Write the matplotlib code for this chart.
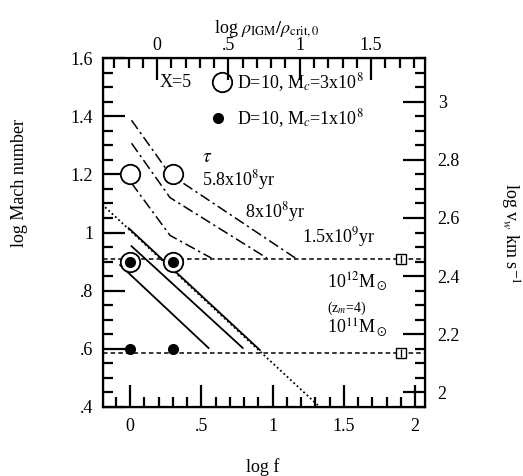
import matplotlib
matplotlib.use("Agg")
import matplotlib.pyplot as plt
from matplotlib.ticker import MultipleLocator, FuncFormatter

plt.rcParams['font.family'] = ['Liberation Serif', 'DejaVu Serif']
plt.rcParams['mathtext.fontset'] = 'stix'

# model points (log f = 0 and log 2)
mark_f = [0.0, 0.301]
open_M = [1.2, 1.2]
circdot_M = [0.9, 0.9]
dot_M = [0.6, 0.6]

# horizontal halo levels (dashed) and square marker position
halo_M = [0.91, 0.585]
square_f = 1.9

# solid lines
line_a_f = [-0.07, 0.55]
line_a_M = [0.888, 0.603]
line_b_f = [0.01, 0.79]
line_b_M = [0.953, 0.603]
line_c_f = [-0.01, 0.91]
line_c_M = [1.015, 0.596]
# dotted extension of line c
dot_f = [-0.175, 1.33]
dot_line_M = [1.087, 0.40]

# tau curves (dash-dot)
tau1_f = [0.01, 0.28, 1.16]
tau1_M = [1.386, 1.20, 0.912]
tau2_f = [0.01, 0.28, 0.96]
tau2_M = [1.307, 1.12, 0.912]
tau3_f = [0.01, 0.28, 0.57]
tau3_M = [1.17, 0.99, 0.912]

xlim = (-0.19, 2.07)
ylim = (0.4, 1.6)
rho_offset = 0.19   # log rho = log f - offset
vw_offset = 1.55    # log v_w = log Mach + offset


def nozero(v, pos=None):
    s = f"{v:g}"
    if s.startswith("0."):
        s = s[1:]
    if s == "-0":
        s = "0"
    return s


def style_ticks(a, axis, pad):
    a.tick_params(axis=axis, which='both', direction='in', labelsize=13,
                  width=1.6, color='black', pad=pad)
    a.tick_params(axis=axis, which='major', length=16)
    a.tick_params(axis=axis, which='minor', length=7)


fig = plt.figure(figsize=(5.23, 4.76), dpi=100)
ax = fig.add_axes([0.197, 0.145, 0.616, 0.733])
ax.set_xlim(*xlim)
ax.set_ylim(*ylim)

dashdot = (0, (7, 2.5, 1.5, 2.5))
for xs, ys in [(tau1_f, tau1_M), (tau2_f, tau2_M), (tau3_f, tau3_M)]:
    ax.plot(xs, ys, color='black', lw=1.1, linestyle=dashdot)

ax.plot(dot_f, dot_line_M, color='black', lw=1.3, linestyle=(0, (1, 1.5)))
for xs, ys in [(line_a_f, line_a_M), (line_b_f, line_b_M), (line_c_f, line_c_M)]:
    ax.plot(xs, ys, color='black', lw=1.3)

for m in halo_M:
    ax.axhline(m, color='black', lw=1.1, linestyle=(0, (3, 2)))
    ax.plot([square_f], [m], marker='s', ms=7, mfc='white', mec='black', mew=1.0)
    ax.plot([square_f], [m], marker='|', ms=6, color='black', mew=1.0)

ax.plot(mark_f, open_M, 'o', ms=14, mfc='white', mec='black', mew=1.3, ls='none')
ax.plot(mark_f, circdot_M, 'o', ms=14, mfc='white', mec='black', mew=1.3, ls='none')
ax.plot(mark_f, circdot_M, 'o', ms=7, color='black', ls='none')
ax.plot(mark_f, dot_M, 'o', ms=7, color='black', ls='none')

# legend drawn by hand
ax.text(0.21, 1.517, "X=5", fontsize=13, ha='left', va='center')
ax.plot([0.646], [1.517], 'o', ms=14, mfc='white', mec='black', mew=1.3)
ax.text(0.75, 1.517, r"D=10, M$_c$=3x10$^8$", fontsize=13, ha='left', va='center')
ax.plot([0.62], [1.393], 'o', ms=7, color='black')
ax.text(0.75, 1.393, r"D=10, M$_c$=1x10$^8$", fontsize=13, ha='left', va='center')

# annotations
ax.text(0.505, 1.259, r"$\tau$", fontsize=14, ha='left', va='center')
ax.text(0.505, 1.18, r"5.8x10$^8$yr", fontsize=13, ha='left', va='center')
ax.text(0.807, 1.07, r"8x10$^8$yr", fontsize=13, ha='left', va='center')
ax.text(1.207, 0.984, r"1.5x10$^9$yr", fontsize=13, ha='left', va='center')
ax.text(1.38, 0.83, r"10$^{12}$M$_\odot$", fontsize=13, ha='left', va='center')
ax.text(1.38, 0.738, r"(z$_m$=4)", fontsize=10, ha='left', va='center')
ax.text(1.38, 0.672, r"10$^{11}$M$_\odot$", fontsize=13, ha='left', va='center')

# main axes ticks
ax.xaxis.set_major_locator(MultipleLocator(0.5))
ax.xaxis.set_minor_locator(MultipleLocator(0.1))
ax.yaxis.set_major_locator(MultipleLocator(0.2))
ax.yaxis.set_minor_locator(MultipleLocator(0.05))
ax.xaxis.set_major_formatter(FuncFormatter(nozero))
ax.yaxis.set_major_formatter(FuncFormatter(nozero))
ax.tick_params(top=False, right=False)
style_ticks(ax, 'x', 8)
style_ticks(ax, 'y', 7)
for sp in ax.spines.values():
    sp.set_linewidth(1.6)

# top axis: log rho
top = ax.twiny()
top.set_xlim(xlim[0] - rho_offset, xlim[1] - rho_offset)
top.xaxis.set_major_locator(MultipleLocator(0.5))
top.xaxis.set_minor_locator(MultipleLocator(0.1))
top.xaxis.set_major_formatter(FuncFormatter(nozero))
style_ticks(top, 'x', 3)

# right axis: log v_w
right = ax.twinx()
right.set_ylim(ylim[0] + vw_offset, ylim[1] + vw_offset)
right.yaxis.set_major_locator(MultipleLocator(0.2))
right.yaxis.set_minor_locator(MultipleLocator(0.05))
right.yaxis.set_major_formatter(FuncFormatter(nozero))
style_ticks(right, 'y', 9)

fig.text(0.038, 0.616, "log Mach number", rotation=90, fontsize=13, ha='center', va='center')
fig.text(0.975, 0.51, r"log v$_w$ km s$^{-1}$", rotation=-90, fontsize=13, ha='center', va='center')
fig.text(0.51, 0.941, r"log $\rho_{\rm IGM}/\rho_{\rm crit,0}$", fontsize=13, ha='center', va='center')
fig.text(0.503, 0.019, "log f", fontsize=13, ha='center', va='center')

fig.savefig("out.png", dpi=100)
